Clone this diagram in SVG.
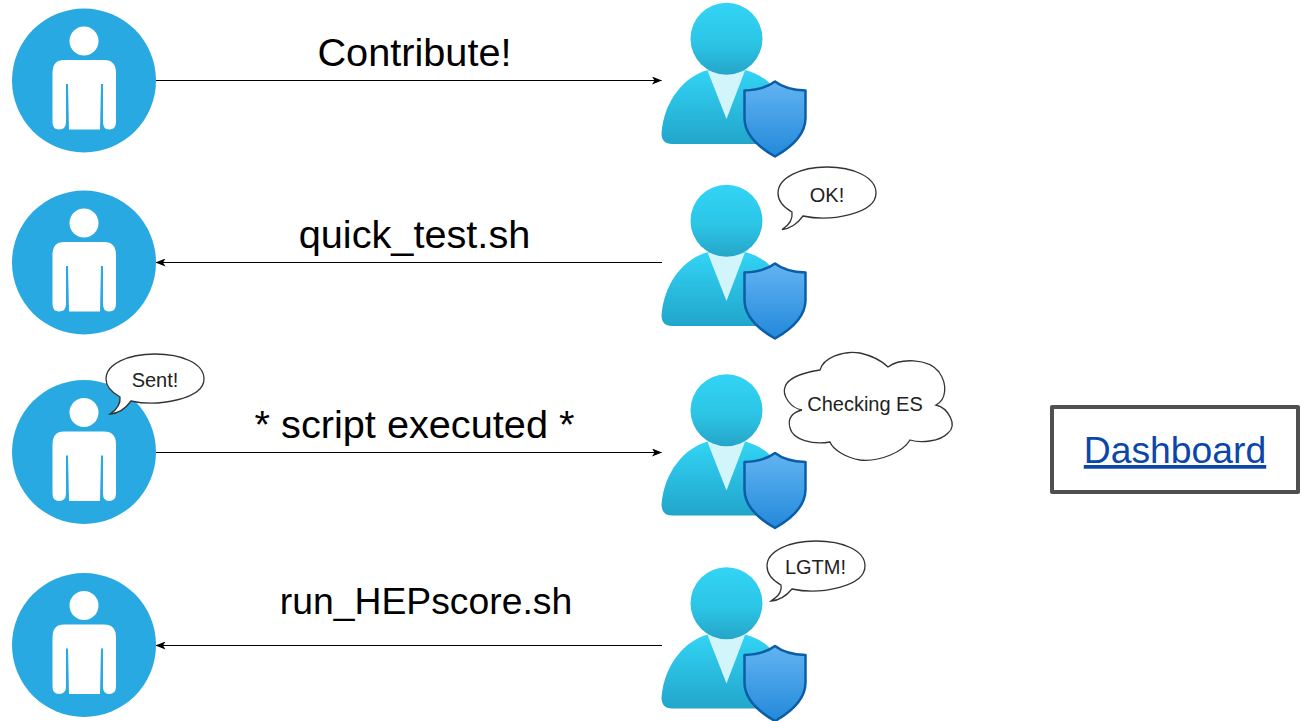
<svg xmlns="http://www.w3.org/2000/svg" width="1302" height="721" viewBox="0 0 1302 721">
<style>
text{font-family:"Liberation Sans",Arial,sans-serif;fill:#000}
.lbl{font-size:39.7px;text-anchor:middle}
.lbs{font-size:37.300px;text-anchor:middle}
.say{font-size:20px;text-anchor:middle;fill:#222}
.bub{fill:#fff;stroke:#333;stroke-width:1.3}
.con{stroke:#000;stroke-width:1;fill:none}
</style>
<defs>
<marker id="arr" viewBox="0 0 10 8" refX="9.5" refY="4" markerWidth="10" markerHeight="8" markerUnits="userSpaceOnUse" orient="auto"><path d="M0 0L10 4L0 8L2.5 4Z" fill="#000"/></marker>
<linearGradient id="gh" x1="0" y1="0" x2="0" y2="1"><stop offset="0" stop-color="#32d4f5"/><stop offset=".55" stop-color="#2cc5e6"/><stop offset="1" stop-color="#25a5c8"/></linearGradient>
<linearGradient id="gb" x1="0" y1="0" x2="0" y2="1"><stop offset="0" stop-color="#32d4f5"/><stop offset="1" stop-color="#22a5cb"/></linearGradient>
<linearGradient id="gs" x1="0" y1="0" x2="0" y2="1"><stop offset="0" stop-color="#62b4f2"/><stop offset="1" stop-color="#2389da"/></linearGradient>
<g id="user">
<circle cx="84" cy="80.500" r="72" fill="#29a9e1"/>
<circle cx="84" cy="41" r="14.500" fill="#fff"/>
<path d="M64 60H104Q116 60 116 73V122Q116 129.500 109 129.500Q103 129.500 103 122V84H101L100 129.500H69L68 84H66V122Q66 129.500 59 129.500Q52.500 129.500 52.500 122V73Q52.500 60 64 60Z" fill="#fff"/>
</g>
<g id="admin">
<path d="M672 144Q661.500 144 661.500 133C664 100 685 76 708 70H745C770 76 790 100 792 133Q792 144 782 144Z" fill="url(#gb)"/>
<path d="M707.500 70.500L726.500 119L745 70.500Z" fill="#d2f5fc"/>
<circle cx="726.500" cy="38.800" r="36" fill="url(#gh)"/>
<path d="M775 81.500C768 87 757 90 744.500 90.500V118C744.500 135 760 148 775 156.500C790 148 805.500 135 805.500 118V90.500C793 90 782 87 775 81.500Z" fill="url(#gs)" stroke="#0b5da6" stroke-width="2.500" stroke-linejoin="round"/>
</g>
</defs>
<g id="connectors">
<path class="con" d="M156 80.500H661.500" marker-end="url(#arr)"/>
<path class="con" d="M662 262.500H156" marker-end="url(#arr)"/>
<path class="con" d="M156 452.500H661.500" marker-end="url(#arr)"/>
<path class="con" d="M662 645.500H156" marker-end="url(#arr)"/>
</g>
<g id="contributor-1"><use href="#user"/></g>
<g id="contributor-2"><use href="#user" y="182"/></g>
<g id="contributor-3"><use href="#user" y="371.500"/></g>
<g id="contributor-4"><use href="#user" y="564.500"/></g>
<g id="admin-1"><use href="#admin"/></g>
<g id="admin-2"><use href="#admin" y="182"/></g>
<g id="admin-3"><use href="#admin" y="371.500"/></g>
<g id="admin-4"><use href="#admin" y="564.500"/></g>
<g id="labels">
<text class="lbl" x="414.500" y="66">Contribute!</text>
<text class="lbl" x="414.500" y="248">quick_test.sh</text>
<text class="lbl" x="414.500" y="438">* script executed *</text>
<text class="lbs" x="426" y="614">run_HEPscore.sh</text>
</g>
<g id="bubble-ok">
<path class="bub" d="M792 212C793 220 788 226 782 229.500C790 229 798 223 803 216C830 222 876 214 876 193C876 177 853 167 827 167C800 167 778 178 778 193C778 201 783 207 792 212Z"/>
<text class="say" x="827" y="202">OK!</text>
</g>
<g id="bubble-sent">
<path class="bub" d="M120 397C121 405 116 410 110 414C118 413.500 126 408 131 401C158 407 204 399 204 379C204 363 181 354 155 354C128 354 106 364 106 379C106 387 111 392 120 397Z"/>
<text class="say" x="155" y="386.500">Sent!</text>
</g>
<g id="bubble-lgtm">
<path class="bub" d="M781 585C782 593 777 597 771 601C779 600.500 787 595 792 589C819 595 865 587 865 566C865 550 842 541 816 541C789 541 767 551 767 566C767 574 772 580 781 585Z"/>
<text class="say" x="815.500" y="574">LGTM!</text>
</g>
<g id="cloud-checking">
<path class="bub" d="M820 370C823 358 843 350 860 353C873 356 883 362 888 367C900 358 928 358 939 372C948 385 946 400 936 405C948 408 958 425 948 433C940 442 920 443 910 440C903 452 880 462 860 460C847 458 833 450 830 442C813 445 793 440 790 428C787 418 793 412 802 410C790 408 782 395 785 387C788 377 807 372 820 370Z"/>
<text class="say" x="865" y="411">Checking ES</text>
</g>
<g id="dashboard">
<rect x="1052" y="407" width="246" height="85" fill="#fff" stroke="#505050" stroke-width="4" stroke-linejoin="round"/>
<text x="1175" y="463" style="font-size:37.300px;text-anchor:middle;fill:#0b47a8;text-decoration:underline">Dashboard</text>
</g>
</svg>
